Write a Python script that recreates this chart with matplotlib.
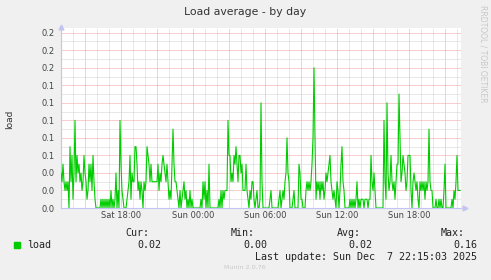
import numpy as np
import pandas as pd
import matplotlib
matplotlib.use('Agg')
import matplotlib.pyplot as plt
import matplotlib.dates as mdates
from matplotlib.patches import Rectangle
from matplotlib.ticker import MultipleLocator, FuncFormatter

W, H = 491, 280

# load average, in hundredths, one value per 5 minutes
load_sat_afternoon = [4, 3, 5, 3, 2, 3, 2, 3, 0, 7, 3, 6, 1, 4, 10, 3, 6, 4, 5, 3,
                      4, 2, 3, 6, 4, 3, 1, 2, 5, 3, 5, 2, 6, 3, 1, 0, 0, 0, 0, 0,
                      1, 0, 1, 0, 1, 0, 1, 0, 1, 0, 2, 0, 1, 0, 1, 4, 0, 2, 0, 10,
                      5, 2, 1, 0, 0, 0, 1, 2, 3, 6, 1, 4, 3, 3, 7, 7, 5, 2, 3, 1,
                      3, 2]
load_sat_evening = [0, 3, 2, 3, 7, 6, 5, 3, 5, 3, 3, 3, 3, 3, 3, 5, 2, 4, 3, 5,
                    6, 5, 4, 3, 5, 3, 1, 2, 1, 5, 9, 5, 3, 3, 2, 1, 0, 2, 0, 1,
                    2, 3, 1, 2, 0, 1, 0, 2, 0, 1, 0, 0, 0, 0, 0, 0, 0, 0, 1, 0,
                    3, 1, 3, 0, 2, 0, 5, 0, 0, 0, 0, 0, 0, 0, 0]
load_sun_night = [0, 1, 0, 2, 0, 2, 1, 2, 2, 2, 10, 6, 6, 3, 4, 3, 6, 5, 7, 5,
                  3, 6, 6, 4, 5, 2, 2, 2, 5, 2, 1, 0, 2, 1, 3, 3, 1, 0, 1, 2,
                  0, 0, 1, 12, 3, 0, 0, 0, 0, 0, 0, 0, 1, 2, 0, 0, 0, 0, 0, 0,
                  0, 1, 2, 0, 1, 2, 1, 3, 4, 8, 4, 3, 0, 0, 0, 1, 2, 0, 0, 0]
load_sun_day = [0, 5, 4, 1, 1, 0, 0, 0, 2, 3, 2, 3, 2, 3, 5, 8, 16, 8, 1, 3,
                2, 3, 1, 3, 2, 3, 1, 2, 4, 3, 4, 5, 6, 3, 2, 1, 2, 1, 0, 3,
                2, 0, 2, 5, 7, 3, 2, 0, 0, 0, 0, 0, 1, 0, 1, 0, 1, 0, 1, 3,
                0, 1, 0, 1, 1, 1, 0, 1, 1, 1, 0, 1, 1, 6, 3, 2, 4, 2, 0, 0]
load_sun_evening = [0, 0, 0, 0, 0, 0, 10, 3, 1, 12, 4, 2, 3, 6, 3, 2, 3, 1, 3, 5,
                    5, 13, 8, 3, 4, 6, 5, 4, 2, 3, 6, 6, 6, 2, 0, 3, 4, 3, 2, 3,
                    1, 0, 3, 2, 3, 2, 3, 1, 3, 2, 3, 9, 3, 2, 2, 0, 0, 0, 1, 0,
                    0, 1, 0, 1, 0, 0, 2, 5, 0, 0, 0, 0, 0, 0, 1, 0, 2, 1, 3, 6,
                    2, 2, 2]

load = np.array(load_sat_afternoon + load_sat_evening + load_sun_night
                + load_sun_day + load_sun_evening) / 100.0
last_sample = pd.Timestamp('2025-12-07 22:15')
times = pd.date_range(end=last_sample, periods=len(load), freq='5min')

legend_heads = ['Cur:', 'Min:', 'Avg:', 'Max:']
legend_vals = ['0.02', '0.00', '0.02', '0.16']
last_update = 'Last update: Sun Dec  7 22:15:03 2025'


def fx(x):
    return x / W


def fy(y):
    return 1 - y / H


fig = plt.figure(figsize=(W / 100, H / 100), dpi=100, facecolor='#F0F0F0')
ax = fig.add_axes([fx(61), fy(208), (461 - 61) / W, (208 - 28) / H])
ax.set_facecolor('white')

ax.plot(times, load, color='#00CC00', lw=0.8, zorder=3)
ax.set_xlim(times[0], times[-1] + pd.Timedelta('5min'))
ax.set_ylim(0, 0.2 * 180 / 175.3)

# grid: red every 0.02 / 3h, grey every 0.01 / 1h
ax.yaxis.set_major_locator(MultipleLocator(0.02))
ax.yaxis.set_minor_locator(MultipleLocator(0.01))
ax.yaxis.set_major_formatter(FuncFormatter(lambda v, p: '%.1f' % v))
ax.xaxis.set_major_locator(mdates.HourLocator(byhour=range(0, 24, 3)))
ax.xaxis.set_minor_locator(mdates.HourLocator())


def xlab(v, pos):
    d = mdates.num2date(v)
    return d.strftime('%a %H:%M') if d.hour % 6 == 0 else ''


ax.xaxis.set_major_formatter(FuncFormatter(xlab))
ax.set_axisbelow(True)
ax.grid(which='major', color='#F0A0A0', lw=0.72, ls=(0, (1, 1)))
ax.grid(which='minor', color='#D2D2D2', lw=0.72, ls=(0, (1, 1)))
ax.tick_params(which='both', length=0, labelsize=6, colors='#444444')
ax.tick_params(axis='y', pad=4.5)
ax.tick_params(axis='x', pad=2)

for s in ['top', 'right']:
    ax.spines[s].set_visible(False)
for s in ['left', 'bottom']:
    ax.spines[s].set_color('#C4C4F4')
    ax.spines[s].set_linewidth(0.8)
ax.plot(0, 1.005, marker='^', ms=3.5, color='#C4C4F4', transform=ax.transAxes,
        clip_on=False)
ax.plot(1.01, 0, marker='>', ms=3.5, color='#C4C4F4', transform=ax.transAxes,
        clip_on=False)

fig.text(fx(245), fy(12), 'Load average - by day', ha='center', va='center',
         fontsize=7.8, color='#333333')
fig.text(fx(9.5), fy(119), 'load', rotation=90, ha='center', va='center',
         fontsize=6.5, color='#333333')
fig.text(fx(483), fy(54), 'RRDTOOL / TOBI OETIKER', rotation=270, ha='center',
         va='center', fontsize=5.5, color='#C8C8C8')

# legend block
mono = dict(family='DejaVu Sans Mono', fontsize=7.2, color='#222222', va='center')
head_x = [125, 231, 336.5, 441]
val_x = [137, 243, 348.5, 453]
for hx, vx, hd, vl in zip(head_x, val_x, legend_heads, legend_vals):
    fig.text(fx(hx), fy(233), hd, **mono)
    fig.text(fx(vx), fy(245), vl, **mono)
fig.patches.append(Rectangle((fx(14), fy(248)), 5.5 / W, 6 / H, color='#00CC00',
                             transform=fig.transFigure))
fig.text(fx(27), fy(245), 'load', **mono)
fig.text(fx(255), fy(257), last_update, **mono)
fig.text(fx(245), fy(267.5), 'Munin 2.0.76', ha='center', va='center',
         fontsize=4.6, color='#C8C8C8')

fig.savefig('out.png', dpi=100, facecolor=fig.get_facecolor())
